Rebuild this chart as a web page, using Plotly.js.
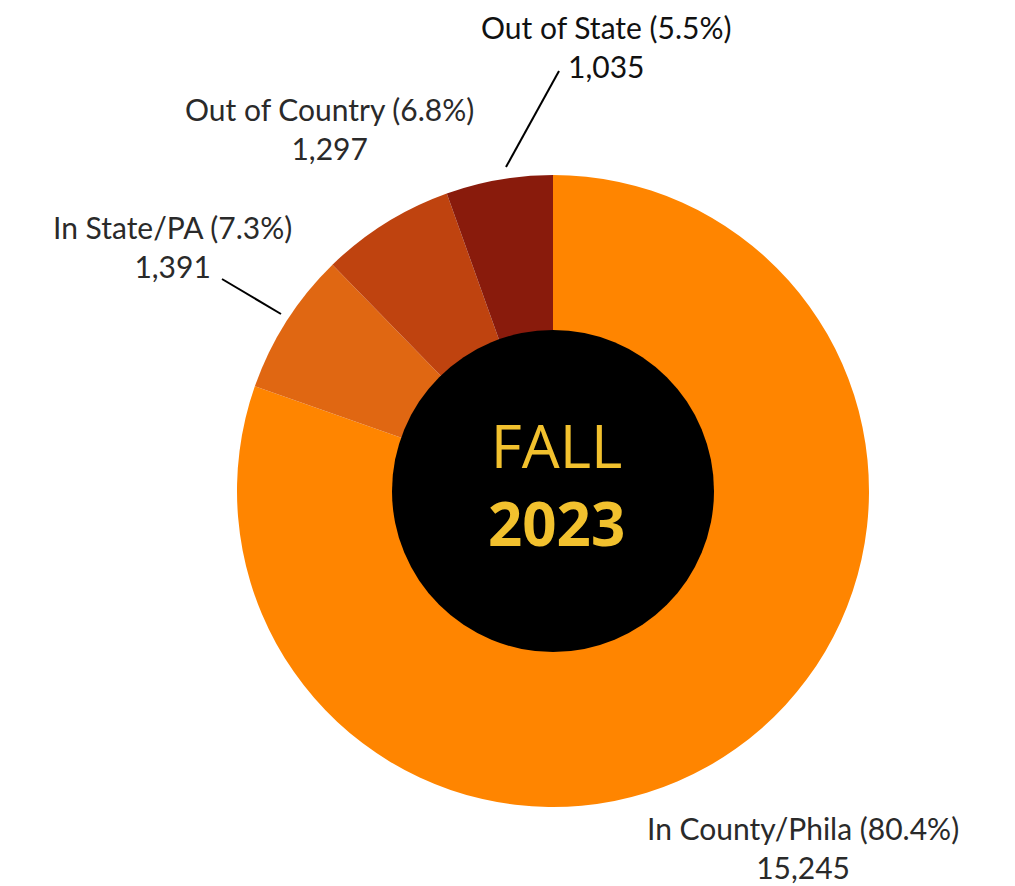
<!DOCTYPE html>
<html>
<head>
<meta charset="utf-8">
<script src="https://cdn.plot.ly/plotly-3.0.1.min.js"></script>
<style>html,body{margin:0;padding:0;background:#fff;}#chart{width:1015px;height:886px;}</style>
</head>
<body>
<div id="chart"></div>
<script>
// Data
const categories = ["In County/Phila", "In State/PA", "Out of Country", "Out of State"];
const values = [15245, 1391, 1297, 1035];
const colors = ["#FF8500", "#E06712", "#BF430F", "#891B0C"];
const centerLine1 = "FALL";
const centerLine2 = "2023";

const W = 1015, H = 886;
const cx = 553, cy = 491, R = 316, rHole = 161;
const px = x => x / W;
const py = y => 1 - y / H;

const total = values.reduce((a, b) => a + b, 0);
const fmt = v => v.toLocaleString("en-US");
const labelText = categories.map((c, i) =>
  c + " (" + (values[i] / total * 100).toFixed(1) + "%)<br>" + fmt(values[i]));

// label placement (pixels): [x center, y center]
const labelPos = [[803, 847], [172, 247], [329, 129], [606, 46]];
const labelColor = ["#2a2a2a", "#2a2a2a", "#2a2a2a", "#111111"];

const annotations = labelText.map((t, i) => ({
  xref: "paper", yref: "paper",
  x: px(labelPos[i][0]), y: py(labelPos[i][1]),
  xanchor: "center", yanchor: "middle",
  text: t, showarrow: false, align: "center",
  font: {family: "Lato, 'Open Sans', sans-serif", size: 30, color: labelColor[i]}
}));
annotations.push({
  xref: "paper", yref: "paper", x: px(556), y: py(484),
  xanchor: "center", yanchor: "middle", showarrow: false, align: "center",
  text: centerLine1 + "<br><b>" + centerLine2 + "</b>",
  font: {family: "'Open Sans', 'Noto Sans', sans-serif", size: 60, color: "#F2C12E"}
});

const shapes = [
  {type: "circle", xref: "paper", yref: "paper",
   x0: px(cx - rHole), x1: px(cx + rHole), y0: py(cy + rHole), y1: py(cy - rHole),
   fillcolor: "#000000", line: {width: 0}, layer: "above"},
  {type: "line", xref: "paper", yref: "paper",
   x0: px(506), y0: py(167), x1: px(559), y1: py(71), line: {color: "#000", width: 2}},
  {type: "line", xref: "paper", yref: "paper",
   x0: px(222), y0: py(279), x1: px(281), y1: py(314), line: {color: "#000", width: 2}}
];

const trace = {
  type: "pie",
  labels: categories,
  values: values,
  marker: {colors: colors, line: {width: 0}},
  sort: false,
  direction: "clockwise",
  rotation: 0,
  textinfo: "none",
  hoverinfo: "label+value+percent",
  showlegend: false,
  domain: {x: [px(cx - R), px(cx + R)], y: [py(cy + R), py(cy - R)]}
};

Plotly.newPlot("chart", [trace], {
  width: W, height: H,
  margin: {l: 0, r: 0, t: 0, b: 0},
  paper_bgcolor: "#ffffff",
  showlegend: false,
  annotations: annotations,
  shapes: shapes
}, {displayModeBar: false, staticPlot: true});
</script>
</body>
</html>
